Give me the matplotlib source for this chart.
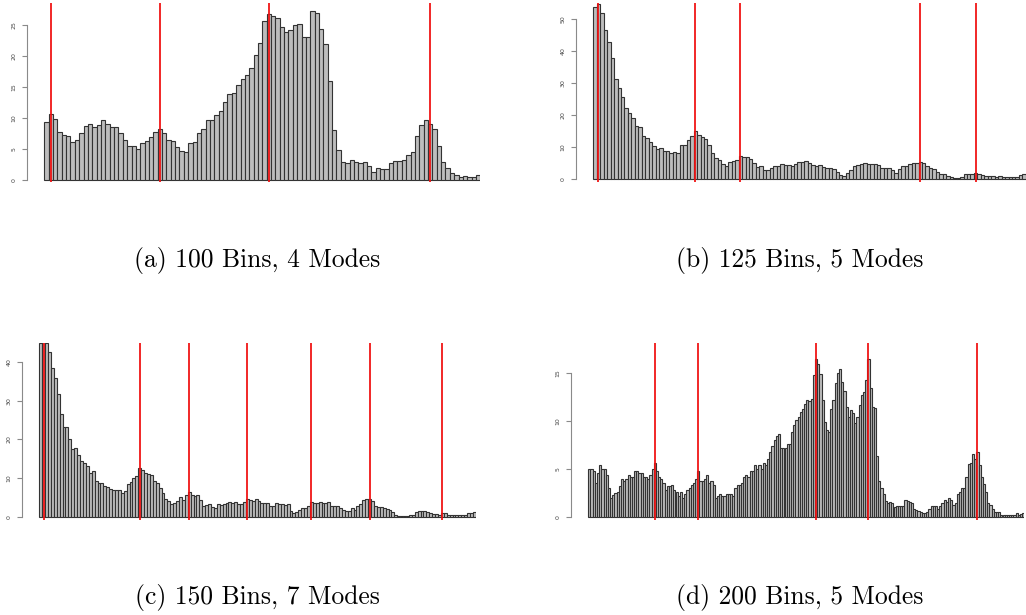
import numpy as np
import matplotlib
matplotlib.use("Agg")
import matplotlib.pyplot as plt

# bin heights for the four histograms
counts_100 = [9.4, 10.6, 9.9, 7.7, 7.3, 7.1, 6.1, 6.5, 7.5, 8.7,
              9.1, 8.5, 8.9, 9.7, 9.1, 8.5, 8.5, 7.5, 6.5, 5.5,
              5.5, 5.0, 5.9, 6.3, 6.9, 7.7, 8.3, 7.5, 6.5, 6.3,
              5.3, 4.7, 4.5, 5.9, 6.1, 7.5, 8.3, 9.7, 9.7, 10.5,
              11.1, 12.5, 13.9, 14.1, 15.3, 16.3, 16.9, 18.1, 20.1, 22.1,
              25.6, 26.8, 26.5, 26.2, 24.6, 23.8, 24.2, 25.0, 25.2, 23.0,
              23.0, 27.2, 27.0, 24.4, 22.0, 15.9, 8.1, 4.8, 2.9, 2.7,
              3.3, 2.9, 2.7, 2.9, 2.3, 1.3, 1.9, 1.7, 1.7, 2.7,
              3.1, 3.1, 3.3, 4.1, 4.5, 7.1, 8.9, 9.7, 9.1, 8.3,
              5.5, 2.9, 1.9, 1.1, 0.8, 0.5, 0.7, 0.5, 0.5, 0.8]

counts_125 = [53.6, 54.7, 52.0, 46.6, 42.7, 37.7, 31.2, 28.4, 25.8, 22.3,
              20.6, 19.1, 16.7, 16.3, 13.5, 12.9, 11.5, 10.5, 9.5, 9.8,
              8.9, 8.9, 8.3, 8.6, 8.2, 10.6, 10.6, 12.1, 13.5, 15.1,
              13.9, 13.3, 12.5, 10.6, 8.2, 6.7, 6.1, 4.9, 4.3, 5.4,
              5.6, 6.1, 7.3, 7.0, 6.8, 6.2, 5.0, 3.7, 4.1, 3.0,
              3.0, 3.4, 4.2, 4.3, 4.8, 4.6, 4.6, 4.0, 4.9, 5.3,
              5.4, 5.6, 5.2, 4.6, 4.0, 4.4, 3.8, 3.4, 3.6, 3.2,
              2.4, 1.2, 1.1, 2.0, 3.0, 4.0, 4.6, 4.8, 5.0, 4.8,
              4.7, 4.7, 4.6, 3.6, 3.6, 3.4, 2.8, 2.0, 3.2, 4.0,
              4.2, 4.8, 5.0, 5.0, 5.4, 5.2, 4.2, 3.6, 3.2, 2.4,
              1.8, 1.7, 1.0, 0.8, 0.4, 0.4, 0.8, 1.6, 1.8, 1.7,
              1.9, 1.6, 1.2, 0.9, 1.1, 1.0, 0.8, 0.9, 0.7, 0.8,
              0.7, 0.6, 0.7, 1.4, 1.5]

counts_150 = [44.7, 45.0, 44.7, 42.4, 38.5, 35.9, 31.7, 26.5, 23.3, 23.3,
              20.1, 17.6, 17.9, 15.9, 14.5, 13.9, 13.2, 11.4, 11.8, 9.3,
              8.7, 8.7, 8.1, 7.8, 7.4, 6.9, 7.0, 6.9, 6.2, 6.7,
              8.5, 9.1, 10.0, 10.6, 12.6, 12.2, 11.5, 11.1, 10.8, 9.4,
              8.7, 7.5, 6.3, 4.7, 4.3, 3.3, 3.6, 4.3, 5.1, 4.5,
              5.7, 6.4, 5.7, 5.6, 5.7, 4.5, 3.0, 3.1, 3.3, 2.7,
              2.5, 3.3, 3.1, 3.3, 3.6, 3.9, 3.6, 3.9, 3.5, 3.5,
              3.9, 4.8, 4.5, 4.3, 4.6, 4.2, 3.8, 3.7, 3.6, 3.0,
              3.0, 3.6, 3.3, 3.4, 3.2, 3.3, 1.5, 1.2, 1.3, 1.9,
              2.3, 2.4, 2.8, 3.9, 3.8, 3.7, 4.0, 3.8, 3.7, 3.9,
              3.0, 2.9, 2.8, 2.4, 2.0, 1.5, 1.6, 2.3, 2.0, 2.8,
              3.3, 4.4, 4.6, 4.7, 4.2, 3.0, 2.7, 2.6, 2.3, 2.2,
              1.8, 1.4, 0.6, 0.4, 0.4, 0.4, 0.3, 0.5, 0.6, 1.3,
              1.6, 1.6, 1.5, 1.3, 1.0, 0.9, 0.8, 0.7, 1.0, 1.0,
              0.7, 0.6, 0.5, 0.6, 0.5, 0.5, 0.6, 1.0, 1.1, 1.4]

counts_200 = [5.0, 5.0, 4.8, 3.6, 4.6, 5.4, 5.0, 5.0, 4.4, 3.0,
              2.0, 2.3, 2.5, 2.6, 3.2, 4.0, 3.8, 4.0, 4.4, 4.2,
              4.2, 4.8, 4.8, 4.6, 4.6, 4.2, 4.2, 4.0, 4.4, 5.0,
              5.6, 4.8, 4.2, 4.0, 3.6, 2.8, 3.2, 3.2, 3.4, 2.8,
              2.6, 2.2, 2.6, 2.0, 2.4, 2.8, 3.0, 3.4, 3.6, 4.0,
              4.8, 3.8, 3.8, 4.0, 4.4, 3.6, 3.8, 3.4, 2.0, 2.2,
              2.4, 2.2, 2.2, 2.4, 2.4, 2.4, 2.2, 3.0, 3.4, 3.4,
              3.6, 4.2, 4.4, 4.2, 4.8, 4.8, 5.4, 5.0, 5.4, 5.0,
              5.6, 5.4, 6.0, 6.8, 7.4, 8.0, 8.4, 8.6, 7.2, 7.2,
              7.2, 7.6, 7.6, 8.8, 9.6, 10.1, 10.4, 10.9, 11.2, 11.8,
              12.2, 12.1, 12.3, 14.8, 16.4, 15.9, 14.9, 12.2, 9.9, 9.1,
              8.9, 11.2, 12.2, 13.9, 15.0, 15.4, 14.0, 13.1, 11.4, 10.4,
              11.1, 10.8, 9.8, 10.4, 11.6, 12.7, 13.0, 14.2, 16.4, 13.4,
              11.4, 11.3, 6.4, 3.8, 3.0, 2.4, 1.7, 1.5, 1.6, 1.5,
              1.1, 1.2, 1.2, 1.2, 1.2, 1.8, 1.7, 1.6, 1.5, 0.9,
              0.8, 0.7, 0.5, 0.4, 0.4, 0.6, 0.9, 1.2, 1.2, 1.2,
              0.9, 1.2, 1.5, 1.8, 1.6, 2.0, 1.8, 1.3, 1.5, 2.4,
              2.6, 3.0, 3.0, 4.2, 5.5, 5.6, 6.6, 6.0, 6.8, 5.4,
              4.2, 3.5, 2.6, 1.5, 1.3, 0.9, 0.6, 0.6, 0.5, 0.2,
              0.2, 0.2, 0.2, 0.2, 0.2, 0.2, 0.4, 0.2, 0.3, 0.4]

# detected modes (1-based bin index)
modes_100 = [2, 27, 52, 89]
modes_125 = [2, 30, 43, 95, 111]
modes_150 = [2, 35, 52, 72, 94, 114, 139]
modes_200 = [31, 51, 105, 129, 179]

captions = ["(a) 100 Bins, 4 Modes", "(b) 125 Bins, 5 Modes",
            "(c) 150 Bins, 7 Modes", "(d) 200 Bins, 5 Modes"]
y_ticks = [np.arange(0, 26, 5), np.arange(0, 51, 10),
           np.arange(0, 41, 10), np.arange(0, 16, 5)]

W, H = 1026, 615
fig = plt.figure(figsize=(W / 100, H / 100), dpi=100)

# pixel layout: axis x, first bar x, bar width, top, bottom, zero line, px per unit
layout = [
    (26.7, 44.3, 4.36, 3, 182.3, 180.0, 6.2),
    (576.0, 593.3, 3.46, 3, 182.3, 179.3, 3.207),
    (22.0, 39.3, 2.91, 342.5, 519.5, 517.3, 3.89),
    (571.0, 588.3, 2.18, 342.5, 519.5, 517.3, 9.64),
]
caption_pos = [(257, 267), (800, 267), (257, 604), (800, 604)]

data = [(counts_100, modes_100), (counts_125, modes_125),
        (counts_150, modes_150), (counts_200, modes_200)]

for (counts, modes), (xa, x0, bw, top, bot, zero, s), ticks, cap, cpos in zip(
        data, layout, y_ticks, captions, caption_pos):
    n = len(counts)
    x_end = x0 + n * bw
    ax = fig.add_axes([xa / W, 1 - bot / H, (x_end - xa) / W, (bot - top) / H])
    ax.bar(np.arange(n), counts, width=1, align="edge",
           facecolor="#bdbdbd", edgecolor="#333333", linewidth=0.8)
    for m in modes:
        ax.axvline(m - 0.5, color="#f01010", linewidth=1.4, alpha=0.9)
    ax.set_xlim(-(x0 - xa) / bw, n)
    ax.set_ylim(-(bot - zero) / s, (zero - top) / s)

    for side in ["top", "right", "bottom"]:
        ax.spines[side].set_visible(False)
    ax.spines["left"].set_bounds(ticks[0], ticks[-1])
    ax.spines["left"].set_color("#8a8a8a")
    ax.spines["left"].set_linewidth(0.8)
    ax.set_xticks([])
    ax.set_yticks(ticks)
    ax.set_yticklabels([str(t) for t in ticks])
    ax.tick_params(axis="y", length=3.6, width=0.8, color="#8a8a8a",
                   labelsize=4.5, labelcolor="#444444", pad=4, labelrotation=90)
    for lab in ax.get_yticklabels():
        lab.set_va("center")
    ax.patch.set_visible(False)

    fig.text(cpos[0] / W, 1 - cpos[1] / H, cap, family="cmr10",
             fontsize=18.4, ha="center", va="baseline")

fig.savefig("out.png", dpi=100)
